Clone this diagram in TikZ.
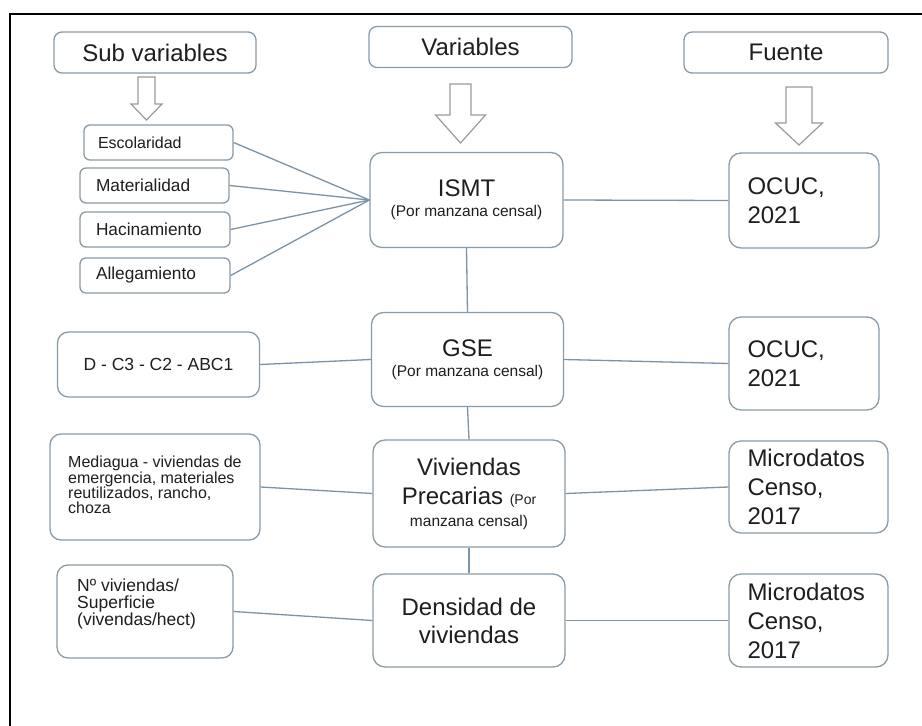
\documentclass[tikz,border=0pt]{standalone}
\usepackage{fontspec}
\setmainfont{Liberation Sans}
\definecolor{boxline}{HTML}{8A9BA8}
\definecolor{linkc}{HTML}{7C93A5}
\definecolor{arrowc}{HTML}{9A9A9A}
\definecolor{txt}{HTML}{1E1E1E}
% hollow block arrow pointing down: centre x, top y, shaft half width, head half width, head start y, tip y
\newcommand\blockarrow[6]{\draw[hollow] ({#1-#3},#2) -- ({#1+#3},#2) -- ({#1+#3},#5) -- ({#1+#4},#5) -- (#1,#6) -- ({#1-#4},#5) -- ({#1-#3},#5) -- cycle;}
\begin{document}
\begin{tikzpicture}[x=1pt,y=-1pt,
  box/.style={draw=boxline, line width=1.3pt, fill=white, text=txt, inner sep=0pt, align=center},
  hdr/.style={box, rounded corners=8pt, font=\fontsize{24}{28}\selectfont},
  bigbox/.style={box, rounded corners=12pt, font=\fontsize{24}{28}\selectfont},
  subbox/.style={box, rounded corners=6pt, minimum height=35, align=left, font=\fontsize{17.3}{20}\selectfont},
  midbox/.style={box, rounded corners=11pt, font=\fontsize{17.5}{16.5}\selectfont},
  srcbox/.style={bigbox, align=left, inner xsep=18.5pt, font=\fontsize{24}{29}\selectfont},
  plain/.style={inner sep=0pt, text=txt, align=left},
  link/.style={draw=linkc, line width=1.3pt},
  hollow/.style={draw=arrowc, line width=1.2pt, line join=miter, fill=white}]
\useasboundingbox (0,0) rectangle (922,726);
\fill[white] (0,0) rectangle (922,726);
% page frame
\draw[black, line width=1.6pt] (10,726) -- (10,14) -- (922,14);

% column headers
\node[hdr, minimum width=202, minimum height=41] (sub) at (155,52.5) {Sub variables};
\node[hdr, minimum width=203, minimum height=41] (var) at (470.5,47) {Variables};
\node[hdr, minimum width=204, minimum height=41] (fue) at (786,52.5) {Fuente};

% hollow arrows under the headers
\blockarrow{146.5}{77}{8.5}{15.5}{104}{120}
\blockarrow{460.5}{84}{10.5}{25}{115}{143}
\blockarrow{799}{87}{13}{23.5}{123}{145}

% sub variables of ISMT
\node[subbox, inner xsep=14pt, text width=121pt, font=\fontsize{16}{19}\selectfont] (esc) at (158.5,142.5) {Escolaridad};
\node[subbox, inner xsep=16pt, text width=117pt] (mat) at (154.5,185.5) {Materialidad};
\node[subbox, inner xsep=16pt, text width=118pt] (hac) at (155,229.5) {Hacinamiento};
\node[subbox, inner xsep=16pt, text width=118pt] (all) at (155,275.5) {Allegamiento};

% variables
\node[bigbox, minimum width=193, minimum height=95] (ismt) at (466.5,200)
  {ISMT\\[-8pt]{\fontsize{15.5}{18}\selectfont (Por manzana censal)}};
\node[bigbox, minimum width=192, minimum height=94] (gse) at (467.5,359.5)
  {GSE\\[-8pt]{\fontsize{15.5}{18}\selectfont (Por manzana censal)}};
\node[bigbox, minimum width=192, minimum height=107, font=\fontsize{24}{29}\selectfont] (viv) at (469,493.5)
  {Viviendas\\Precarias {\fontsize{14}{16}\selectfont (Por}\\[-7pt]{\fontsize{15.5}{18}\selectfont manzana censal)}};
\node[bigbox, minimum width=192, minimum height=93] (den) at (469,620.5) {Densidad de\\viviendas};

% sources
\node[srcbox, text width=113pt, minimum height=95] (ocuc1) at (804,200.5) {OCUC,\\2021};
\node[srcbox, text width=113pt, minimum height=93] (ocuc2) at (804,363.5) {OCUC,\\2021};
\node[srcbox, text width=122pt, minimum height=92] (mic1) at (808.5,487) {Microdatos\\Censo,\\2017};
\node[srcbox, text width=122pt, minimum height=93] (mic2) at (808.5,620.5) {Microdatos\\Censo,\\2017};

% sub variables of the other variables
\node[midbox, minimum width=202, minimum height=65] (dc) at (158.5,364.5) {D - C3 - C2 - ABC1};
\node[midbox, minimum width=210, minimum height=106] (med) at (155,487) {};
\node[plain, anchor=north west, font=\fontsize{16}{15.3}\selectfont] (medtext) at (68,456)
  {Mediagua - viviendas de\\emergencia, materiales\\reutilizados, rancho,\\choza};
\node[midbox, minimum width=176, minimum height=93] (nv) at (145,611.5) {};
\node[plain, anchor=north west, font=\fontsize{17.5}{16.8}\selectfont] (nvtext) at (77,579)
  {Nº viviendas/\\Superficie\\(vivendas/hect)};

% connectors
\draw[link] (esc.east) -- (ismt.west);
\draw[link] (mat.east) -- (ismt.west);
\draw[link] (hac.east) -- (ismt.west);
\draw[link] (all.east) -- (ismt.west);
\draw[link] (ismt.east) -- (ocuc1.west);
\draw[link] (ismt.south) -- (gse.north);
\draw[link] (dc.east) -- (gse.west);
\draw[link] (gse.east) -- (ocuc2.west);
\draw[link] (gse.south) -- (viv.north);
\draw[link] (med.east) -- (viv.west);
\draw[link] (viv.east) -- (mic1.west);
\draw[link] (viv.south) -- (den.north);
\draw[link] (nv.east) -- (den.west);
\draw[link] (den.east) -- (mic2.west);
\end{tikzpicture}
\end{document}
